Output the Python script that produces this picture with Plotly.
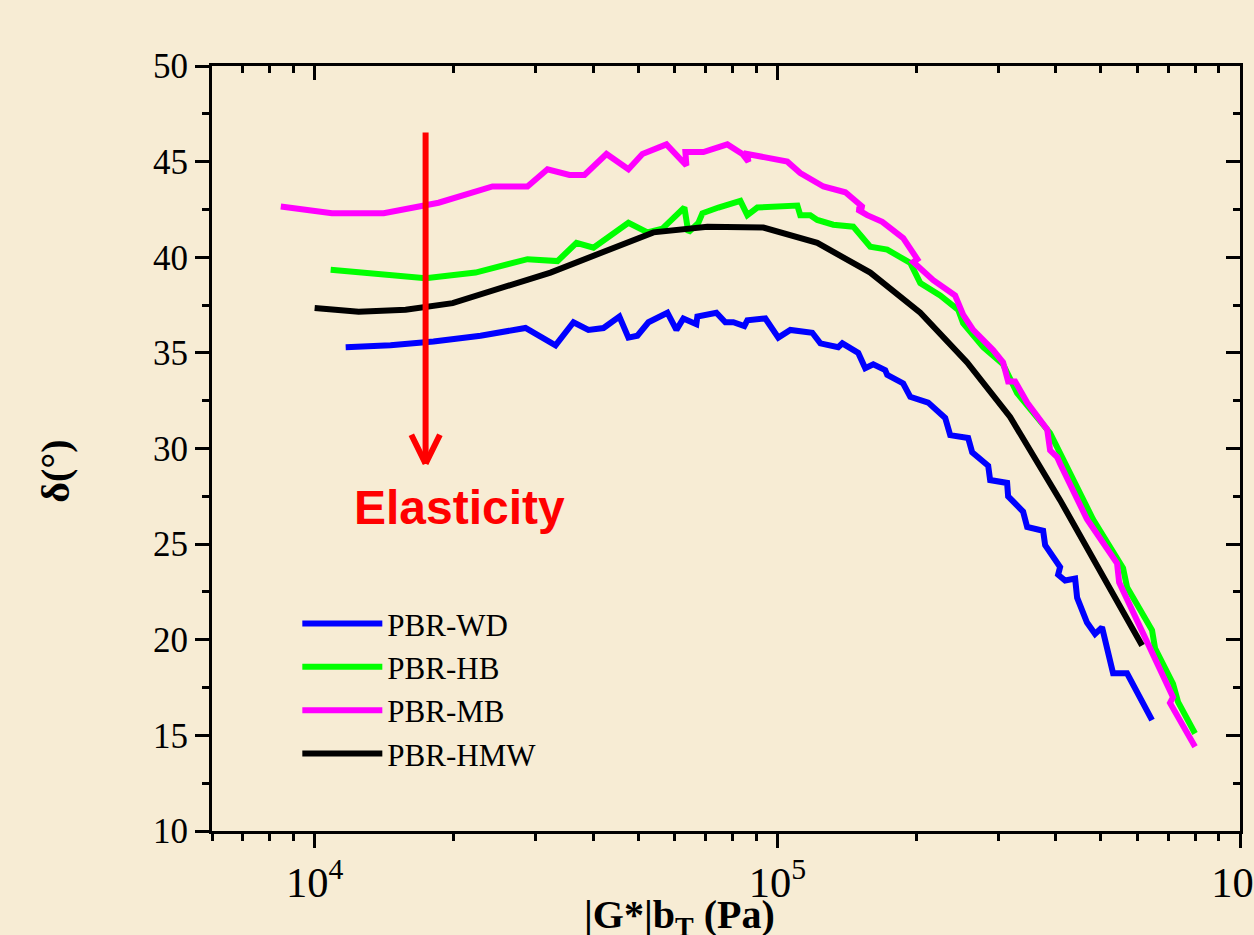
import math
import plotly.graph_objects as go

# ---------------- data ----------------
WD_X = [11670, 14590, 18070, 22830, 28560, 33160, 36260, 39060, 42100, 45570, 47660, 49840,
        52660, 57870, 60520, 62660, 66830, 67170, 73840, 77210, 80350, 84860, 86140, 94220,
        100500, 106700, 119000, 123900, 135400, 138200, 149600, 154900, 161200, 171100, 172800,
        187100, 193800, 211900, 230600, 236400, 258500, 263700, 285600, 288400, 313800, 315400,
        339800, 346700, 375400, 379200, 408500, 404500, 418800, 440200, 444600, 467000, 486100,
        503300, 531700, 570000, 645500]
WD_Y = [35.3, 35.4, 35.6, 35.9, 36.3, 35.4, 36.6, 36.2, 36.3, 36.9, 35.8, 35.9,
        36.6, 37.1, 36.2, 36.8, 36.5, 36.9, 37.1, 36.6, 36.6, 36.4, 36.7, 36.8,
        35.8, 36.2, 36.05, 35.5, 35.3, 35.5, 35.0, 34.2, 34.4, 34.1, 33.85,
        33.4, 32.7, 32.4, 31.6, 30.7, 30.55, 29.8, 29.1, 28.35, 28.2, 27.5,
        26.7, 25.9, 25.7, 24.95, 23.8, 23.4, 23.1, 23.2, 22.2, 20.9, 20.3,
        20.65, 18.25, 18.25, 15.8]

HB_X = [10830, 13750, 17370, 22270, 28840, 33490, 36810, 40050, 47660, 52400, 56450, 62970,
        64230, 67510, 68870, 74580, 83200, 86140, 90540, 110500, 112100, 117800, 122000, 132100,
        145900, 158800, 172800, 193800, 203700, 224900, 246000, 252100, 278600, 307600, 329800,
        388700, 481200, 558800, 570000, 645500, 655300, 716600, 734600, 799600]
HB_Y = [39.35, 39.1, 38.9, 39.2, 39.9, 39.8, 40.75, 40.5, 41.8, 41.3, 41.5, 42.6,
        41.3, 41.8, 42.3, 42.6, 42.95, 42.2, 42.6, 42.7, 42.2, 42.2, 41.95, 41.7,
        41.6, 40.55, 40.4, 39.7, 38.65, 38.0, 37.25, 36.55, 35.3, 34.4, 32.9,
        30.8, 26.3, 23.75, 22.75, 20.5, 19.55, 17.7, 16.75, 15.1]

MB_X = [8450, 10900, 14100, 18530, 24230, 28840, 31860, 35540, 38300, 42730, 47660, 51100,
        57590, 63600, 63290, 69220, 77980, 84030, 86580, 86140, 105100, 112100, 125800, 140300,
        153400, 148900, 156400, 168600, 187100, 200700, 196700, 217300, 242300, 252100, 265000,
        292700, 307600, 315400, 326600, 346700, 383000, 388700, 402500, 408500, 467000, 542300,
        548000, 629700, 716600, 705900, 799600]
MB_Y = [42.65, 42.3, 42.3, 42.85, 43.7, 43.7, 44.6, 44.3, 44.3, 45.4, 44.6, 45.4,
        45.9, 44.8, 45.5, 45.5, 45.9, 45.4, 45.0, 45.4, 45.0, 44.4, 43.7, 43.4,
        42.6, 42.5, 42.2, 41.85, 41.0, 39.9, 39.75, 38.8, 38.0, 37.0, 36.2,
        35.15, 34.5, 33.5, 33.5, 32.4, 31.0, 29.9, 29.55, 29.2, 26.3, 24.0,
        23.0, 19.8, 17.0, 16.7, 14.4]

HMW_X = [10000, 12450, 15730, 19870, 32340, 53990, 70610, 93300, 122000, 158800, 203700,
         257200, 318500, 408500, 614200]
HMW_Y = [37.35, 37.15, 37.25, 37.6, 39.2, 41.3, 41.6, 41.55, 40.75, 39.2, 37.1,
         34.5, 31.65, 27.3, 19.7]

SERIES_NAMES = ["PBR-WD", "PBR-HB", "PBR-MB", "PBR-HMW"]
SERIES_COLORS = ["#0000FF", "#00FF00", "#FF00FF", "#000000"]

X_RANGE = [6000, 1000000]
Y_RANGE = [10, 50]

# arrow (data coordinates)
ARROW_X = 17370
ARROW_Y_TOP = 46.6
ARROW_Y_TIP = 29.2
ARROW_WING_X = [16120, 18720]
ARROW_WING_Y = 30.8

BG = "#F7ECD4"
SERIF = "Liberation Serif, Times New Roman, serif"
SANS = "Liberation Sans, Arial, sans-serif"

fig = go.Figure()
for xs, ys, name, col in zip([WD_X, HB_X, MB_X, HMW_X], [WD_Y, HB_Y, MB_Y, HMW_Y],
                             SERIES_NAMES, SERIES_COLORS):
    fig.add_trace(go.Scatter(x=xs, y=ys, mode="lines", name=name,
                             line=dict(color=col, width=6)))

# empty trace so that the mirrored (top / right) frame axes are drawn
fig.add_trace(go.Scatter(x=[], y=[], xaxis="x2", yaxis="y2", showlegend=False,
                         hoverinfo="skip"))

lx = [math.log10(v) for v in X_RANGE]

axis_common = dict(showline=True, linecolor="black", linewidth=3, showgrid=False,
                   zeroline=False, tickcolor="black", tickwidth=3, ticklen=14,
                   automargin=False)

fig.update_layout(
    width=1254, height=935,
    margin=dict(l=212, r=14, t=66, b=104, autoexpand=False),
    paper_bgcolor=BG, plot_bgcolor=BG,
    font=dict(family=SERIF, color="black", size=32),
    xaxis=dict(type="log", range=lx, dtick=1, exponentformat="power", ticks="outside",
               tickfont=dict(family=SERIF, size=34, color="black"),
               ticklabeloverflow="allow",
               minor=dict(ticks="outside", ticklen=7, tickwidth=3, tickcolor="black",
                          dtick="D1", showgrid=False),
               **axis_common),
    yaxis=dict(range=Y_RANGE, dtick=5, ticks="outside",
               tickfont=dict(family=SERIF, size=35, color="black"),
               minor=dict(ticks="outside", ticklen=7, tickwidth=3, tickcolor="black",
                          dtick=2.5, showgrid=False),
               **axis_common),
    xaxis2=dict(type="log", range=lx, dtick=1, overlaying="x", side="top", anchor="y2",
                ticks="inside", showticklabels=False,
                minor=dict(ticks="inside", ticklen=7, tickwidth=3, tickcolor="black",
                           dtick="D1", showgrid=False),
                **axis_common),
    yaxis2=dict(range=Y_RANGE, dtick=5, overlaying="y", side="right", anchor="x2",
                ticks="inside", showticklabels=False,
                minor=dict(ticks="inside", ticklen=7, tickwidth=3, tickcolor="black",
                           dtick=2.5, showgrid=False),
                **axis_common),
    legend=dict(x=0.083, y=0.306, xanchor="left", yanchor="top",
                bgcolor="rgba(0,0,0,0)", borderwidth=0,
                font=dict(family=SERIF, size=31, color="black"),
                itemwidth=80, tracegroupgap=0),
    showlegend=True,
)

annotations = []
# axis titles
annotations.append(dict(text="<b>|G*|b<sub>T</sub> (Pa)</b>", xref="paper", yref="paper",
                        x=0.4543, y=-0.112, xanchor="center", yanchor="middle",
                        showarrow=False, font=dict(family=SERIF, size=40, color="black")))
annotations.append(dict(text="<b>δ(°)</b>", xref="paper", yref="paper",
                        x=-0.152, y=0.4706, xanchor="center", yanchor="middle",
                        textangle=-90, showarrow=False,
                        font=dict(family=SERIF, size=40, color="black")))
# elasticity text
annotations.append(dict(text="<b>Elasticity</b>", xref="paper", yref="paper",
                        x=0.2403, y=0.4235, xanchor="center", yanchor="middle",
                        showarrow=False, font=dict(family=SANS, size=48, color="#FF0000")))
# arrow shaft + open head
ax_log = math.log10(ARROW_X)
arrow_segments = [(ax_log, ARROW_Y_TOP)] + [(math.log10(wx), ARROW_WING_Y) for wx in ARROW_WING_X]
for (sx, sy) in arrow_segments:
    annotations.append(dict(x=ax_log, y=ARROW_Y_TIP, xref="x", yref="y",
                            ax=sx, ay=sy, axref="x", ayref="y",
                            text="", showarrow=True, arrowhead=0, arrowwidth=6,
                            arrowcolor="#FF0000", standoff=0, startstandoff=0))
fig.update_layout(annotations=annotations)

fig.write_html("out.html")
